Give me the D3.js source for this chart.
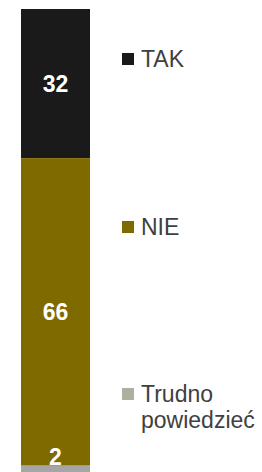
<!DOCTYPE html>
<html>
<head>
<meta charset="utf-8">
<script src="https://cdn.jsdelivr.net/npm/d3@7"></script>
<style>
  html, body { margin: 0; padding: 0; background: #fff; overflow: hidden; }
  svg { display: block; font-family: "Liberation Sans", Arial, sans-serif; }
</style>
</head>
<body>
<div id="chart"></div>
<script>
// dane
const categories = ["TAK", "NIE", "Trudno powiedzieć"];
const values = [32, 66, 2];
const barColors = ["#1a1a1a", "#7f6a00", "#a6a6a6"];
const legendColors = ["#1a1a1a", "#7f6a00", "#adb09f"];

const width = 262, height = 472;

const svg = d3.select("#chart")
    .append("svg")
    .attr("width", width)
    .attr("height", height);

// skale
const x = d3.scaleBand()
    .domain(["all"])
    .range([21, 90])
    .padding(0);

const y = d3.scaleLinear()
    .domain([0, 100])
    .range([475, 9]);

// skumulowane wartości
let acc = 100;
const segs = values.map((v, i) => {
    const top = acc;
    acc -= v;
    return {name: categories[i], value: v, y0: acc, y1: top, color: barColors[i]};
});

svg.selectAll(".seg")
    .data(segs)
    .enter()
    .append("rect")
    .attr("class", "seg")
    .attr("x", x("all"))
    .attr("width", x.bandwidth())
    .attr("y", d => y(d.y1))
    .attr("height", d => y(d.y0) - y(d.y1))
    .attr("fill", d => d.color);

// etykiety wartości
svg.selectAll(".val")
    .data(segs)
    .enter()
    .append("text")
    .attr("class", "val")
    .attr("x", x("all") + x.bandwidth() / 2)
    .attr("y", d => {
        const h = y(d.y0) - y(d.y1);
        // mały segment - etykieta nad nim
        if (h < 20) return y(d.y1) - 1;
        return (y(d.y0) + y(d.y1)) / 2 + 8;
    })
    .attr("text-anchor", "middle")
    .attr("fill", "#fff")
    .style("font-size", "23px")
    .style("font-weight", "bold")
    .text(d => d.value);

// legenda
const legendY = [59, 227, 394];
const legend = svg.selectAll(".leg")
    .data(categories)
    .enter()
    .append("g")
    .attr("class", "leg")
    .attr("transform", (d, i) => `translate(122,${legendY[i]})`);

legend.append("rect")
    .attr("x", 0)
    .attr("y", -6)
    .attr("width", 12)
    .attr("height", 12)
    .attr("fill", (d, i) => legendColors[i]);

legend.append("text")
    .attr("x", 19)
    .attr("y", 8)
    .attr("fill", "#404040")
    .style("font-size", "23px")
    .each(function(d) {
        const words = d.split(" ");
        d3.select(this).selectAll("tspan")
            .data(words)
            .enter()
            .append("tspan")
            .attr("x", 19)
            .attr("dy", (w, j) => j === 0 ? 0 : 26)
            .text(w => w);
    });
</script>
</body>
</html>
